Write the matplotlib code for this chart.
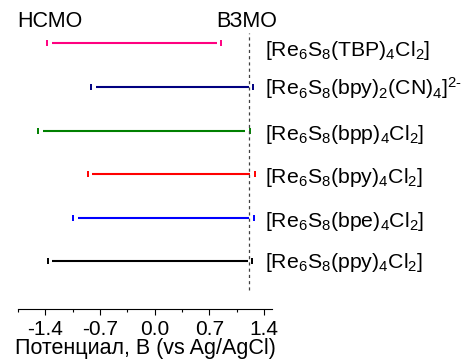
import numpy as np
import matplotlib
matplotlib.use('Agg')
import matplotlib.pyplot as plt
import matplotlib.transforms as mtrans
from matplotlib import rcParams
rcParams['font.family'] = 'Liberation Sans'
rcParams['mathtext.fontset'] = 'custom'
rcParams['mathtext.rm'] = 'Liberation Sans'
rcParams['mathtext.it'] = 'Liberation Sans:italic'
rcParams['mathtext.bf'] = 'Liberation Sans:bold'

#Data: LUMO / HOMO potentials, V vs Ag/AgCl (top to bottom)
names = [r'[Re$_6$S$_8$(TBP)$_4$Cl$_2$]',
         r'[Re$_6$S$_8$(bpy)$_2$(CN)$_4$]$^{2\text{-}}$',
         r'[Re$_6$S$_8$(bpp)$_4$Cl$_2$]',
         r'[Re$_6$S$_8$(bpy)$_4$Cl$_2$]',
         r'[Re$_6$S$_8$(bpe)$_4$Cl$_2$]',
         r'[Re$_6$S$_8$(ppy)$_4$Cl$_2$]']
lumo = [-1.38, -0.81, -1.49, -0.86, -1.04, -1.37]
homo = [0.85, 1.26, 1.22, 1.28, 1.27, 1.25]
colors = ['#FF0080', '#000080', '#008000', '#FF0000', '#0000FF', '#000000']
ref_line = 1.21
ticks = [-1.4, -0.7, 0.0, 0.7, 1.4]
#baseline shift of each label below its line, in pixels (layout only)
label_dy = [13, 8, 9.5, 9, 9, 7]

fig = plt.figure(figsize=(4.64, 3.61), dpi=100)
ax = fig.add_axes([18/464, 52/361, 254/464, 299/361])

n = len(names)
rows = np.arange(n, 0, -1)
gap = 0.06
for i in range(n):
	y = rows[i]
	ax.hlines(y, lumo[i]+gap, homo[i]-gap, color=colors[i], lw=1.5)
	ax.plot([lumo[i], homo[i]], [y, y], ls='none', marker='|', ms=3.8, mew=1.4, color=colors[i])
	tr = mtrans.offset_copy(ax.transData, fig=fig, y=-label_dy[i], units='dots')
	ax.text(1.41, y, names[i], fontsize=15.3, va='baseline', ha='left', clip_on=False, transform=tr)

ax.plot([ref_line, ref_line], [0.33, 6.24], ls=(0, (2.5, 2.5)), color='#404040', lw=0.9)
ax.text(-1.34, 6.5, 'НСМО', fontsize=15.5, ha='center', va='center', clip_on=False)
ax.text(1.18, 6.5, 'ВЗМО', fontsize=15.5, ha='center', va='center', clip_on=False)

ax.set_xlim(-1.75, 1.50)
ax.set_ylim(-0.103, 6.77)
ax.set_xticks(ticks)
ax.set_xticklabels(['%.1f' % t for t in ticks])
ax.set_xticks([-1.75, -1.05, -0.35, 0.35, 1.05], minor=True)
ax.tick_params(axis='x', which='major', length=4, width=0.8, labelsize=15, pad=4)
ax.tick_params(axis='x', which='minor', length=2.5, width=0.8)
ax.set_yticks([])
for s in ['top', 'right', 'left']:
	ax.spines[s].set_visible(False)
ax.spines['bottom'].set_linewidth(0.8)
ax.set_xlabel('Потенциал, В (vs Ag/AgCl)', fontsize=15.5, labelpad=-1)

fig.savefig('out.png', dpi=100)
